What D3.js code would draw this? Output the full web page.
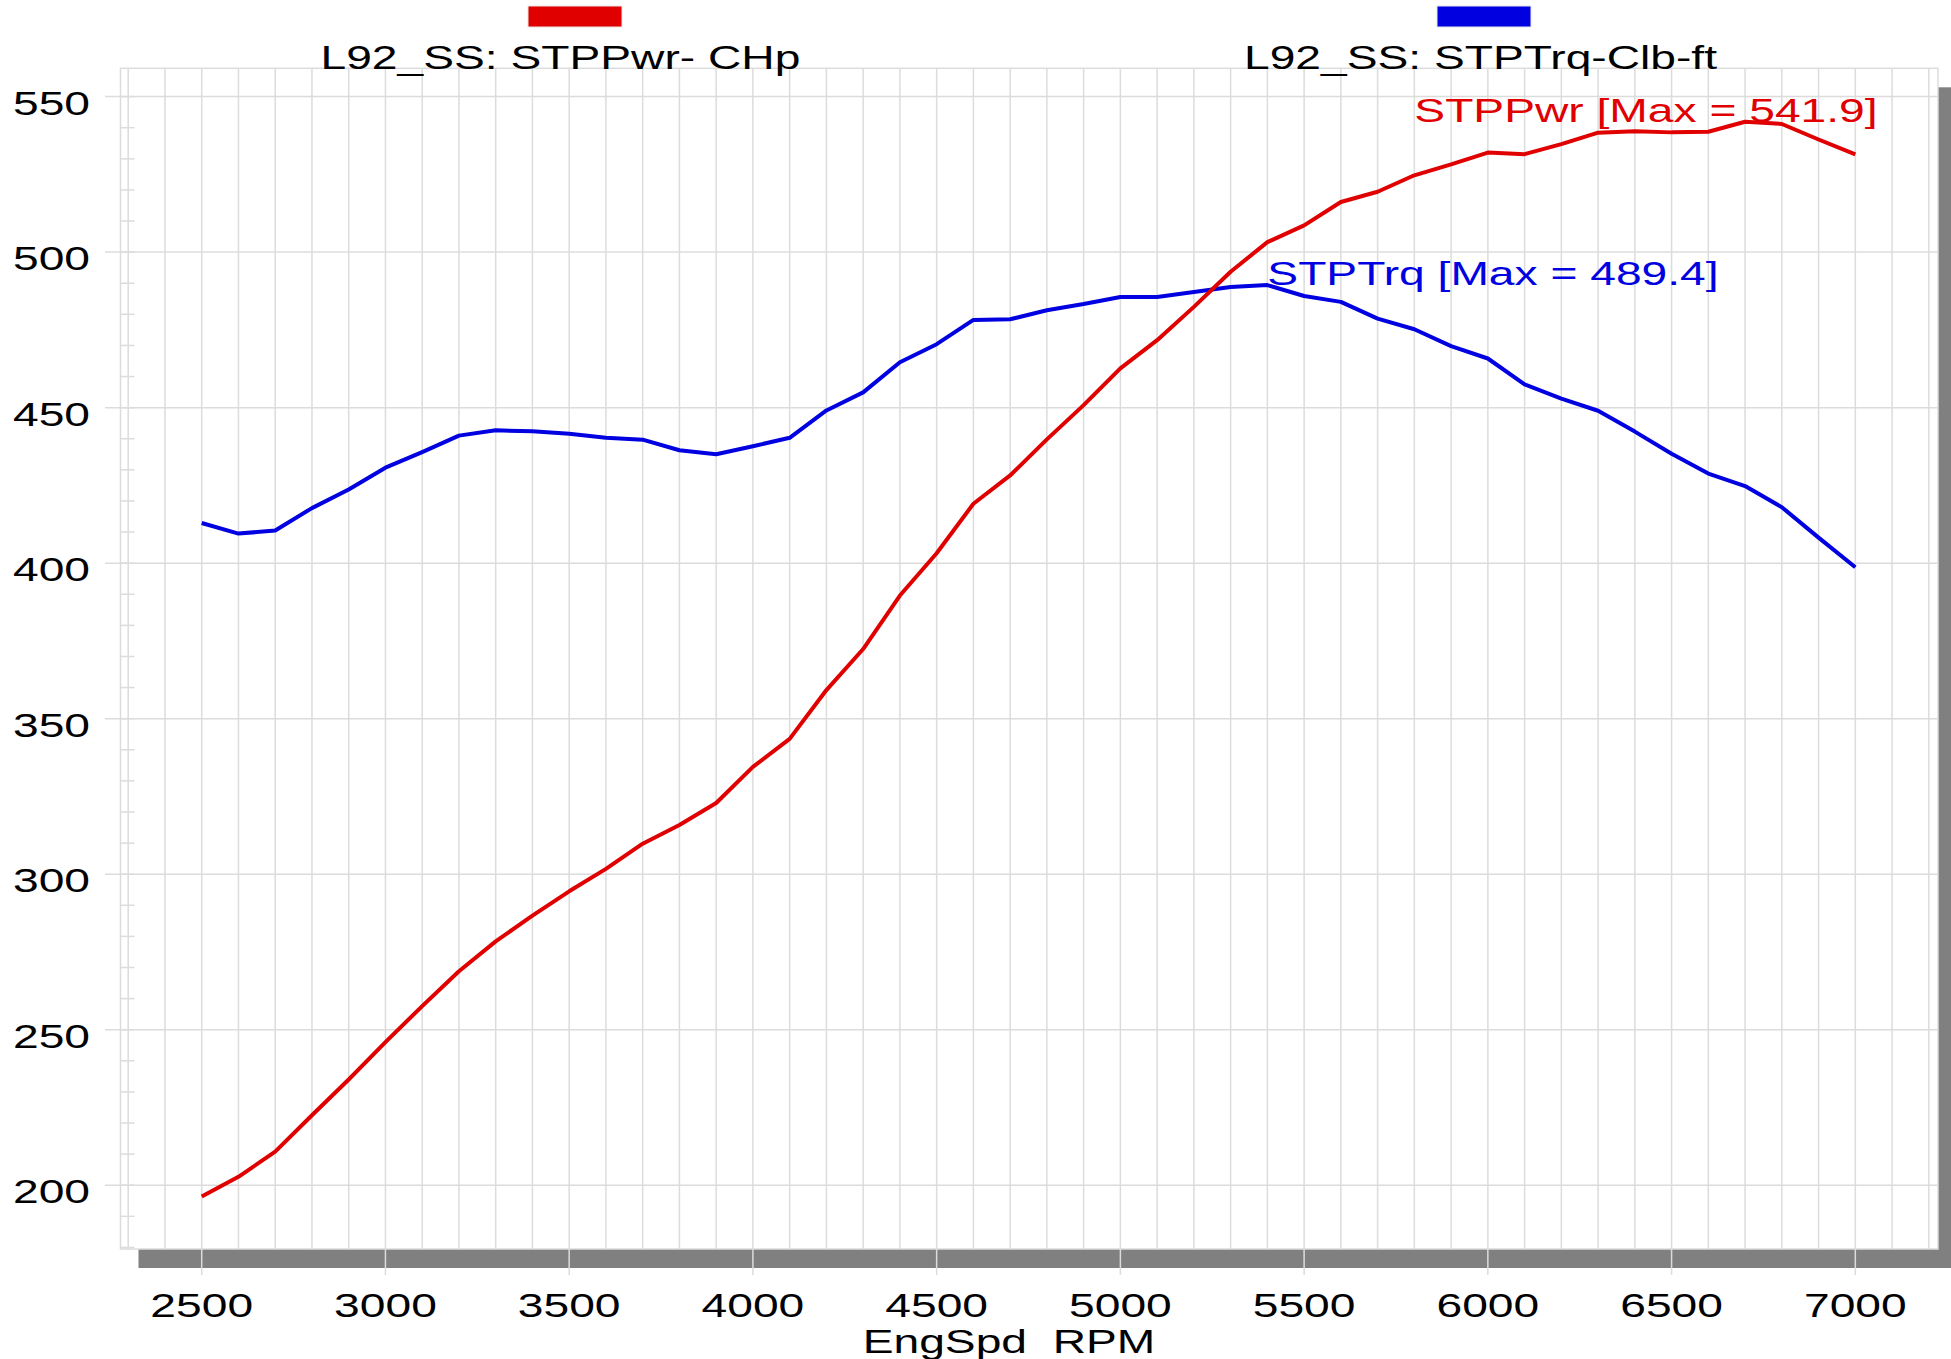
<!DOCTYPE html>
<html>
<head>
<meta charset="utf-8">
<script src="https://cdn.jsdelivr.net/npm/d3@7"></script>
<style>
  body { margin: 0; background: #fff; }
  text { font-family: "Liberation Sans", Arial, sans-serif; white-space: pre; }
</style>
</head>
<body>
<svg id="chart"></svg>
<script>
var rpm = [2500, 2600, 2700, 2800, 2900, 3000, 3100, 3200, 3300, 3400, 3500, 3600, 3700, 3800, 3900,
           4000, 4100, 4200, 4300, 4400, 4500, 4600, 4700, 4800, 4900, 5000, 5100, 5200, 5300,
           5400, 5500, 5600, 5700, 5800, 5900, 6000, 6100, 6200, 6300, 6400, 6500, 6600, 6700, 6800, 6900, 7000];
var power = [196.4, 202.7, 210.8, 222.5, 234.0, 246.0, 257.6, 268.8, 278.4, 286.7, 294.5, 301.7, 309.8, 315.8, 322.9,
             334.5, 343.5, 359.2, 372.4, 389.6, 403.2, 419.1, 428.2, 439.8, 450.8, 462.6, 471.7, 482.4, 493.7,
             503.2, 508.6, 516.1, 519.4, 524.7, 528.2, 532.0, 531.5, 534.7, 538.4, 538.9, 538.5, 538.7, 541.9, 541.2, 536.2, 531.4];
var torque = [412.9, 409.5, 410.5, 417.7, 423.7, 430.7, 435.7, 441.0, 442.7, 442.4, 441.6, 440.3, 439.7, 436.3, 435.0,
              437.6, 440.3, 449.1, 454.9, 464.6, 470.4, 478.2, 478.4, 481.3, 483.3, 485.6, 485.6, 487.2, 488.8,
              489.4, 485.9, 484.0, 478.6, 475.2, 469.8, 465.8, 457.5, 452.9, 449.0, 442.3, 435.2, 428.8, 424.8, 418.0, 408.2, 398.7];
var xTicks = [2500, 3000, 3500, 4000, 4500, 5000, 5500, 6000, 6500, 7000];
var yTicks = [200, 250, 300, 350, 400, 450, 500, 550];
var seriesNames = ["L92_SS: STPPwr- CHp", "L92_SS: STPTrq-Clb-ft"];
var maxLabels = ["STPPwr [Max = 541.9]", "STPTrq [Max = 489.4]"];
var xTitle = "EngSpd  RPM";

(function () {
  var W = 1951, H = 1359;
  var red = "#e00000", blue = "#0000e0", grid = "#dcdcdc";
  var SX = 1.40, FS = 33;
  var left = 120.5, right = 1938, top = 68.3, bottom = 1249;

  var svg = d3.select("#chart").attr("width", W).attr("height", H);

  var x = d3.scaleLinear().domain([2279, 7225]).range([left, right]);
  var y = d3.scaleLinear().domain([179.5, 559.1]).range([bottom, top]);

  function label(x0, y0, str, anchor, color) {
    return svg.append("text")
      .attr("transform", "translate(" + x0 + "," + y0 + ") scale(" + SX + ",1)")
      .attr("text-anchor", anchor)
      .attr("xml:space", "preserve")
      .style("font-size", FS + "px")
      .attr("fill", color || "#000")
      .text(str);
  }

  // drop shadow + plot frame
  svg.append("rect")
    .attr("x", left + 18).attr("y", top + 19)
    .attr("width", right - left).attr("height", bottom - top)
    .attr("fill", "#808080");
  svg.append("rect")
    .attr("x", left).attr("y", top)
    .attr("width", right - left).attr("height", bottom - top)
    .attr("fill", "#fff").attr("stroke", grid).attr("stroke-width", 1.5);

  var minorX = [];
  for (var r = 2300; r <= 7200; r += 100) minorX.push(r);
  svg.append("g").selectAll("line").data(minorX).enter().append("line")
    .attr("x1", d => x(d)).attr("x2", d => x(d))
    .attr("y1", top).attr("y2", bottom)
    .attr("stroke", grid).attr("stroke-width", 1.5);

  // major x ticks run down over the shadow bar
  svg.append("g").selectAll("line").data(xTicks).enter().append("line")
    .attr("x1", d => x(d)).attr("x2", d => x(d))
    .attr("y1", bottom).attr("y2", 1275)
    .attr("stroke", grid).attr("stroke-width", 1.5);

  var minorY = [];
  for (var v = 180; v <= 550; v += 10) minorY.push(v);
  svg.append("g").selectAll("line").data(minorY).enter().append("line")
    .attr("x1", left).attr("x2", left + 14)
    .attr("y1", d => y(d)).attr("y2", d => y(d))
    .attr("stroke", grid).attr("stroke-width", 1.5);

  svg.append("g").selectAll("line").data(yTicks).enter().append("line")
    .attr("x1", 105).attr("x2", right)
    .attr("y1", d => y(d)).attr("y2", d => y(d))
    .attr("stroke", grid).attr("stroke-width", 1.5);

  yTicks.forEach(function (d) { label(90, y(d) + 18, d, "end"); });
  xTicks.forEach(function (d) { label(x(d), 1317, d, "middle"); });
  label(1009, 1353, xTitle, "middle");

  var line = d3.line()
    .x(function (d) { return x(d[0]); })
    .y(function (d) { return y(d[1]); });

  svg.append("path")
    .datum(d3.zip(rpm, torque))
    .attr("d", line)
    .attr("fill", "none").attr("stroke", blue).attr("stroke-width", 4)
    .attr("stroke-linejoin", "round");
  svg.append("path")
    .datum(d3.zip(rpm, power))
    .attr("d", line)
    .attr("fill", "none").attr("stroke", red).attr("stroke-width", 4)
    .attr("stroke-linejoin", "round");

  label(x(5800), y(d3.max(power)), maxLabels[0], "start", red);
  label(x(5400), y(d3.max(torque)), maxLabels[1], "start", blue);

  // legend
  svg.append("rect").attr("x", 528).attr("y", 6).attr("width", 94).attr("height", 21)
    .attr("fill", red).attr("stroke", "#e6e6e6");
  svg.append("rect").attr("x", 1437).attr("y", 6).attr("width", 94).attr("height", 21)
    .attr("fill", blue).attr("stroke", "#e6e6e6");
  label(320.5, 69, seriesNames[0], "start");
  label(1244, 69, seriesNames[1], "start");
})();
</script>
</body>
</html>
